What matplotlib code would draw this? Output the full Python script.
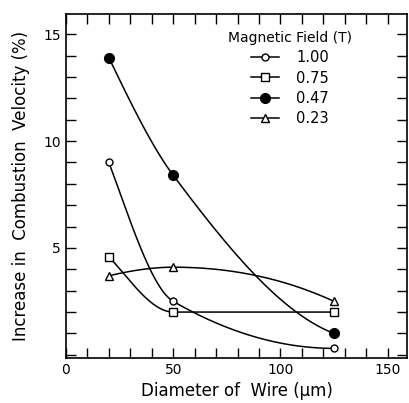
import numpy as np
import matplotlib
matplotlib.use("Agg")
import matplotlib.pyplot as plt
from matplotlib.ticker import MultipleLocator

diameters = [20, 50, 125]
field_labels = ["1.00", "0.75", "0.47", "0.23"]
v_100 = [9.0, 2.5, 0.3]
v_075 = [4.6, 2.0, 2.0]
v_047 = [13.9, 8.4, 1.0]
v_023 = [3.7, 4.1, 2.5]


def pchip(x, y, xs):
    x = np.asarray(x, float); y = np.asarray(y, float)
    h = np.diff(x); d = np.diff(y) / h
    n = len(x); m = np.zeros(n)
    for k in range(1, n - 1):
        if d[k - 1] * d[k] <= 0:
            m[k] = 0
        else:
            w1 = 2 * h[k] + h[k - 1]; w2 = h[k] + 2 * h[k - 1]
            m[k] = (w1 + w2) / (w1 / d[k - 1] + w2 / d[k])
    def end(h0, h1, d0, d1):
        mm = ((2 * h0 + h1) * d0 - h0 * d1) / (h0 + h1)
        if np.sign(mm) != np.sign(d0):
            mm = 0
        elif np.sign(d0) != np.sign(d1) and abs(mm) > abs(3 * d0):
            mm = 3 * d0
        return mm
    m[0] = end(h[0], h[1], d[0], d[1])
    m[-1] = end(h[-1], h[-2], d[-1], d[-2])
    out = np.empty_like(xs)
    for i, xv in enumerate(xs):
        k = min(max(np.searchsorted(x, xv) - 1, 0), n - 2)
        t = (xv - x[k]) / h[k]
        h00 = 2 * t**3 - 3 * t**2 + 1; h10 = t**3 - 2 * t**2 + t
        h01 = -2 * t**3 + 3 * t**2; h11 = t**3 - t**2
        out[i] = h00 * y[k] + h10 * h[k] * m[k] + h01 * y[k + 1] + h11 * h[k] * m[k + 1]
    return out


W, H = 409, 403
fig = plt.figure(figsize=(W / 100, H / 100), dpi=100)
ax = fig.add_axes([66 / W, 1 - 358 / H, (407 - 66) / W, (358 - 14) / H])

series = [
    (v_100, dict(marker="o", ms=5, mfc="white")),
    (v_075, dict(marker="s", ms=6, mfc="white")),
    (v_047, dict(marker="o", ms=7, mfc="black")),
    (v_023, dict(marker="^", ms=6, mfc="white")),
]
xs = np.linspace(diameters[0], diameters[-1], 300)
for (vals, st), lab in zip(series, field_labels):
    ax.plot(xs, pchip(diameters, vals, xs), color="black", lw=1.1)
    ax.plot(diameters, vals, linestyle="none", color="black", mec="black", mew=1.0, zorder=3, **st)
    ax.plot([], [], color="black", lw=1.1, mec="black", mew=1.0, label=lab, **st)

ax.set_xlim(0, 159)
ax.set_ylim(-0.15, 15.95)
ax.xaxis.set_major_locator(MultipleLocator(50))
ax.xaxis.set_minor_locator(MultipleLocator(10))
ax.yaxis.set_major_locator(MultipleLocator(5))
ax.yaxis.set_minor_locator(MultipleLocator(1))
ax.set_yticks([5, 10, 15])
ax.tick_params(which="both", direction="in", top=True, right=True, width=1.0, labelsize=10)
ax.tick_params(which="major", length=7)
ax.tick_params(which="minor", length=7)
for s in ax.spines.values():
    s.set_linewidth(1.2)

ax.set_xlabel("Diameter of  Wire (μm)", fontsize=12, labelpad=4)
ax.set_ylabel("Increase in  Combustion  Velocity (%)", fontsize=12, labelpad=10)

leg = ax.legend(title="Magnetic Field (T)", loc="upper left", bbox_to_anchor=(0.45, 0.975),
                frameon=False, fontsize=10.5, title_fontsize=10, handlelength=1.9,
                labelspacing=0.35, handletextpad=1.2, borderpad=0.1)

fig.savefig("out.png", dpi=100)
